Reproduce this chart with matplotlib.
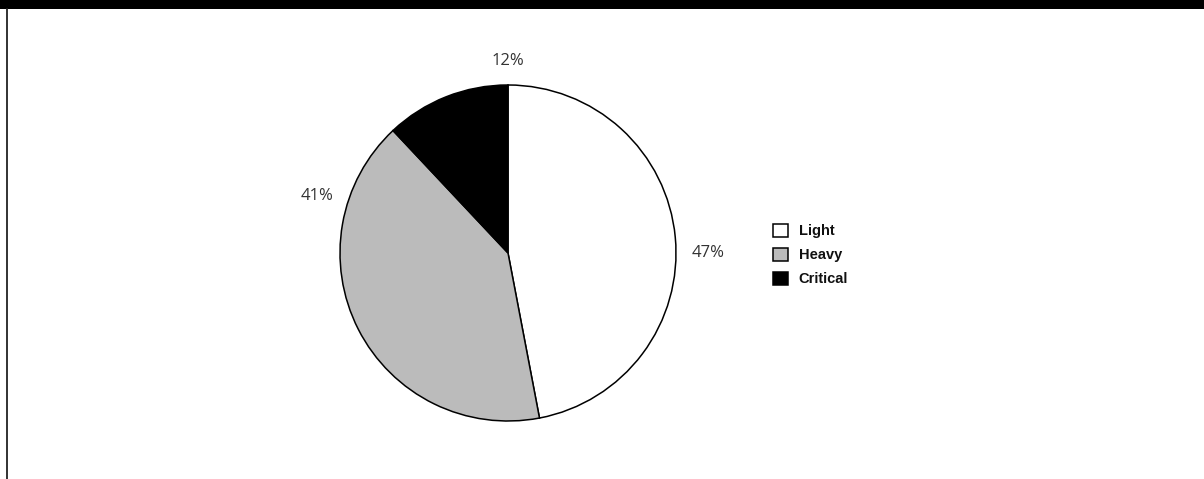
import numpy as np
import matplotlib.pyplot as plt
from matplotlib.patches import Rectangle
from matplotlib.lines import Line2D

# data
labels = ['Light', 'Heavy', 'Critical']
shares = [47, 41, 12]
colors = ['#ffffff', '#bbbbbb', '#000000']
# where each percentage label sits round the pie (degrees)
label_angles = [0, 162, 90]

W, H = 1204, 479
fig = plt.figure(figsize=(W / 100, H / 100), dpi=100)
fig.patch.set_facecolor('white')

# black strip on top, thin rule on the left
fig.patches.append(Rectangle((0, 1 - 9 / H), 1, 9 / H, transform=fig.transFigure,
                             facecolor='black', edgecolor='none'))
fig.lines.append(Line2D([6.8 / W, 6.8 / W], [0, 1 - 9 / H], transform=fig.transFigure,
                        color='#222222', linewidth=1.3))

# pie axes: centre (508, 253), radius 168 px
r_px = 168
cx, cy = 508, 253
ax = fig.add_axes([(cx - r_px) / W, (H - cy - r_px) / H, 2 * r_px / W, 2 * r_px / H])
wedges, _ = ax.pie(shares, colors=colors, startangle=90, counterclock=False,
                   radius=1, wedgeprops=dict(edgecolor='black', linewidth=1.1))
ax.set_xlim(-1, 1)
ax.set_ylim(-1, 1)
ax.set_aspect('equal')
ax.axis('off')

# percentage labels just outside the rim
dist = 184 / r_px
for share, ang in zip(shares, label_angles):
    a = np.deg2rad(ang)
    x, y = dist * np.cos(a), dist * np.sin(a)
    c = np.cos(a)
    ha = 'center' if abs(c) < 0.3 else ('left' if c > 0 else 'right')
    va = 'bottom' if np.sin(a) > 0.9 else 'center'
    ax.text(x, y, f'{share}%', ha=ha, va=va, fontsize=12, family='Open Sans',
            color='#333333', clip_on=False)

fig.legend(wedges, labels, loc='center left', bbox_to_anchor=(773 / W, 1 - 255 / H),
           frameon=False, borderpad=0, borderaxespad=0,
           handlelength=1.0, handleheight=1.0, handletextpad=0.75, labelspacing=0.64,
           prop=dict(family='Liberation Sans', weight='bold', size=10.5))
for t in fig.legends[0].get_texts():
    t.set_color('#111111')

fig.savefig('out.png', dpi=100)
